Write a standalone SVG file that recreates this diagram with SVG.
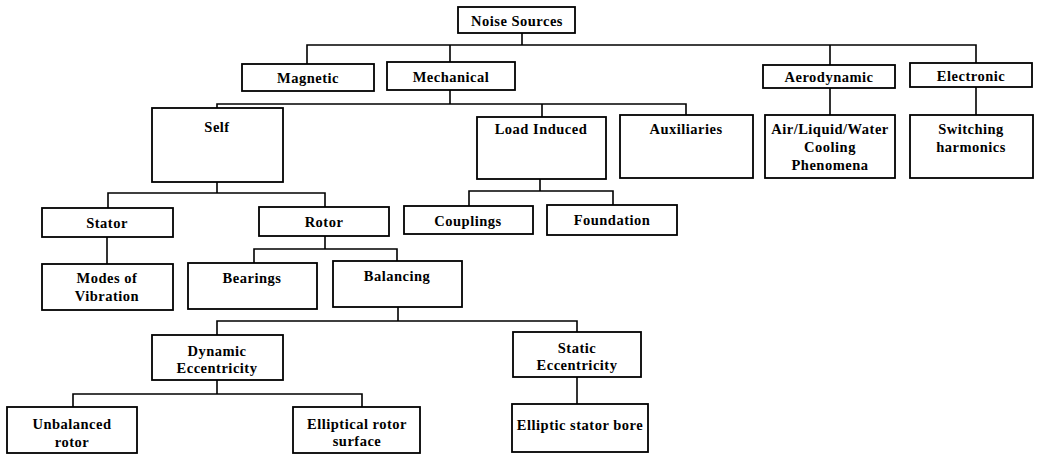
<svg xmlns="http://www.w3.org/2000/svg" width="1042" height="455" viewBox="0 0 1042 455">
<style>
rect{fill:#fff;stroke:#000;stroke-width:1.8}
text{font-family:"Liberation Serif","Times New Roman",serif;font-weight:bold;font-size:14.5px;letter-spacing:0.5px;fill:#000;text-anchor:middle;dominant-baseline:central}
#connectors path{fill:none;stroke:#000;stroke-width:1.6}
</style>
<rect x="0" y="0" width="1042" height="455" style="fill:#fff;stroke:none"/>
<g id="connectors">
<path d="M522 33V45M307 64V45H976V63M450 45V62M830 45V65"/>
<path d="M450 90V104M217 108V104H686V115M542 104V117"/>
<path d="M830 88V115M976 87V115"/>
<path d="M217 182V193M108 208V193H325V207"/>
<path d="M107 237V264"/>
<path d="M325 236V249M254 263V249H397V261"/>
<path d="M540 179V191M469 206V191H613V205"/>
<path d="M398 307V321M217 335V321H577V332"/>
<path d="M217 380V394M73 407V394H362V407"/>
<path d="M577 377V404"/>
</g>
<g id="n-noise"><rect x="458" y="7" width="117" height="26"/><text x="517" y="21">Noise Sources</text></g>
<g id="n-magnetic"><rect x="242" y="64" width="132" height="27"/><text x="308" y="78">Magnetic</text></g>
<g id="n-mechanical"><rect x="387" y="62" width="128" height="28"/><text x="451" y="77">Mechanical</text></g>
<g id="n-aerodynamic"><rect x="763" y="65" width="132" height="23"/><text x="829" y="77">Aerodynamic</text></g>
<g id="n-electronic"><rect x="910" y="63" width="122" height="24"/><text x="971" y="76">Electronic</text></g>
<g id="n-self"><rect x="152" y="108" width="131" height="74"/><text x="217" y="127">Self</text></g>
<g id="n-load"><rect x="477" y="117" width="129" height="62"/><text x="541" y="129">Load Induced</text></g>
<g id="n-aux"><rect x="620" y="115" width="133" height="63"/><text x="686" y="129">Auxiliaries</text></g>
<g id="n-air"><rect x="765" y="115" width="130" height="63"/><text x="830" y="129">Air/Liquid/Water</text><text x="830" y="147">Cooling</text><text x="830" y="165">Phenomena</text></g>
<g id="n-switch"><rect x="910" y="115" width="123" height="63"/><text x="971" y="129">Switching</text><text x="971" y="147">harmonics</text></g>
<g id="n-stator"><rect x="42" y="208" width="131" height="29"/><text x="107" y="223">Stator</text></g>
<g id="n-rotor"><rect x="259" y="207" width="130" height="29"/><text x="324" y="222">Rotor</text></g>
<g id="n-couplings"><rect x="404" y="206" width="129" height="28"/><text x="468" y="221">Couplings</text></g>
<g id="n-foundation"><rect x="547" y="205" width="130" height="30"/><text x="612" y="220">Foundation</text></g>
<g id="n-modes"><rect x="42" y="264" width="131" height="46"/><text x="107" y="278">Modes of</text><text x="107" y="296">Vibration</text></g>
<g id="n-bearings"><rect x="188" y="263" width="129" height="46"/><text x="252" y="278">Bearings</text></g>
<g id="n-balancing"><rect x="333" y="261" width="129" height="46"/><text x="397" y="276">Balancing</text></g>
<g id="n-dynamic"><rect x="152" y="335" width="131" height="45"/><text x="217" y="351">Dynamic</text><text x="217" y="368">Eccentricity</text></g>
<g id="n-static"><rect x="513" y="332" width="128" height="45"/><text x="577" y="348">Static</text><text x="577" y="365">Eccentricity</text></g>
<g id="n-unbalanced"><rect x="7" y="407" width="130" height="46"/><text x="72" y="424">Unbalanced</text><text x="72" y="442">rotor</text></g>
<g id="n-elliptical"><rect x="293" y="407" width="127" height="46"/><text x="357" y="424">Elliptical rotor</text><text x="357" y="441">surface</text></g>
<g id="n-elliptic"><rect x="512" y="404" width="136" height="48"/><text x="580" y="425">Elliptic stator bore</text></g>
</svg>
